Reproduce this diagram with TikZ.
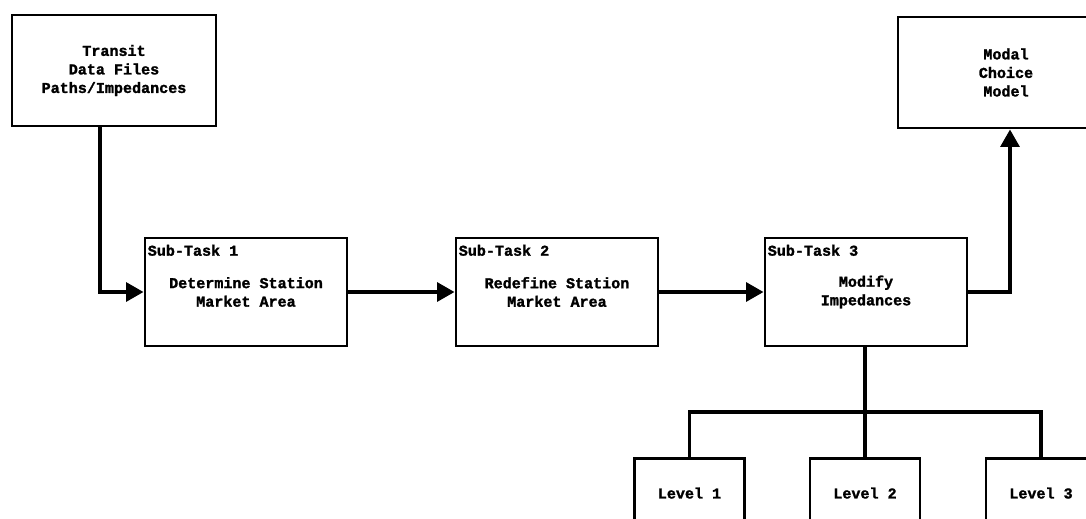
\documentclass[tikz,border=0pt]{standalone}
\usepackage{fontspec}
\newfontfamily\typewriter{Liberation Mono}[BoldFeatures={FakeBold=1.6}]
\usetikzlibrary{arrows.meta,positioning}
\begin{document}
\begin{tikzpicture}[x=0.75pt,y=-0.75pt,
  box/.style={draw,line width=2.2pt,align=center,inner sep=0pt,
    font=\typewriter\bfseries\fontsize{11.3pt}{13.9pt}\selectfont},
  taskbox/.style={box,minimum width=202*0.75pt,minimum height=108*0.75pt},
  levelbox/.style={box,anchor=north,minimum width=110*0.75pt,
    text height=8pt,text depth=50pt,inner ysep=22pt},
  tasklabel/.style={anchor=north west,inner sep=0pt,xshift=3pt,yshift=-6pt,
    font=\typewriter\bfseries\fontsize{11.3pt}{13.9pt}\selectfont},
  link/.style={line width=2.7pt},
  flow/.style={link,-{Triangle[length=13pt,width=14pt]}}]
\useasboundingbox (0,0) rectangle (1086,518);
\clip (0,0) rectangle (1086,518);
\fill[white] (0,0) rectangle (1086,518);

% input data and model boxes
\node[box,minimum width=204*0.75pt,minimum height=111*0.75pt] (transit) at (114,70.5)
  {Transit\\Data Files\\Paths/Impedances};
\node[box,minimum width=216*0.75pt,minimum height=111*0.75pt] (modal) at (1006,72.5)
  {Modal\\Choice\\Model};

% the three sub-tasks
\node[taskbox,label={[tasklabel]north west:Sub-Task 1}] (st1) at (246,292)
  {Determine Station\\Market Area};
\node[taskbox,label={[tasklabel]north west:Sub-Task 2}] (st2) at (557,292)
  {Redefine Station\\Market Area};
\node[taskbox,label={[tasklabel]north west:Sub-Task 3}] (st3) at (866,292)
  {Modify\\Impedances};

% impedance levels
\node[levelbox] (l1) at (689.5,457) {Level 1};
\node[levelbox] (l2) at (865,457) {Level 2};
\node[levelbox] (l3) at (1041,457) {Level 3};

% routing points
\coordinate (drop) at (100,290);
\coordinate (rise) at (1010,0);
\coordinate (bar) at (865,412);

% connectors
\draw[flow] (transit.south -| drop) |- (st1.west);
\draw[flow] (st1.east) -- (st2.west);
\draw[flow] (st2.east) -- (st3.west);
\draw[flow] (st3.east) -| (modal.south -| rise);
\draw[link] (st3.south -| bar) -- (l2.north);
\draw[link] (l1.north) |- (bar) -| (l3.north);
\end{tikzpicture}
\end{document}
